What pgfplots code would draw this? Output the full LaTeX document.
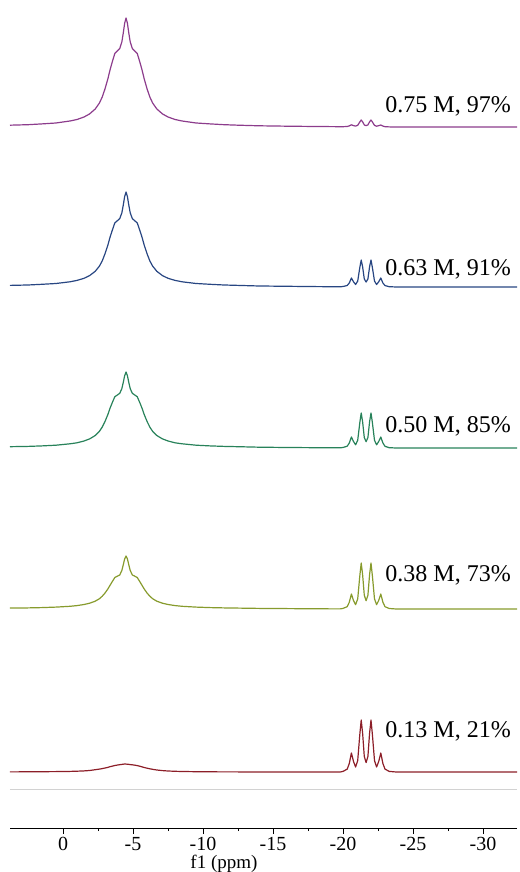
\documentclass[border=0pt]{standalone}
\usepackage{fontspec}
\setmainfont{Liberation Serif}
\usepackage{pgfplots}
\usepackage{pgfplotstable}
\pgfplotsset{compat=1.18}
\definecolor{cPurple}{RGB}{140,60,140}
\definecolor{cBlue}{RGB}{40,70,130}
\definecolor{cGreen}{RGB}{40,130,90}
\definecolor{cOlive}{RGB}{135,155,45}
\definecolor{cRed}{RGB}{140,30,40}
\pgfplotstableread{
x t75 t63 t50 t38 t13
3.79 1.8 1.6 1.3 0.9 0.1
2.5 2.3 2.0 1.6 1.1 0.2
1.5 3.1 2.7 2.1 1.4 0.3
0.5 4.0 3.5 2.8 1.9 0.4
-0.5 6.0 5.2 4.2 2.7 0.6
-1.0 7.5 6.6 5.2 3.4 0.8
-1.5 10.0 8.7 7.0 4.5 1.1
-1.9 13.1 11.4 9.1 5.8 1.5
-2.3 18.0 15.7 12.5 7.8 2.3
-2.6 24.0 20.9 16.7 10.3 2.9
-2.8 30.0 26.1 20.9 12.8 3.4
-3.0 38.2 33.3 26.6 16.0 4.0
-3.2 48.0 41.8 33.4 20.0 4.6
-3.35 56.7 49.4 39.5 23.5 5.3
-3.5 64.3 56.0 44.8 27.0 5.8
-3.7 73.6 64.1 51.3 31.5 6.5
-3.9 76.3 66.5 53.2 33.0 7.0
-4.05 78.5 68.4 54.7 34.0 7.3
-4.2 85.0 74.1 59.3 38.5 7.6
-4.3 93.7 81.7 65.4 44.0 7.8
-4.4 103.6 90.3 72.2 50.0 8.0
-4.5 109.0 95.0 76.0 53.0 7.9
-4.6 103.6 90.3 72.2 50.0 7.8
-4.7 93.7 81.7 65.4 44.0 7.6
-4.8 85.0 74.1 59.3 38.5 7.4
-4.95 78.5 68.4 54.7 34.0 7.2
-5.1 76.3 66.5 53.2 33.0 6.9
-5.3 73.6 64.1 51.3 31.5 6.4
-5.5 64.3 56.0 44.8 27.0 5.7
-5.65 56.7 49.4 39.5 23.5 5.1
-5.8 48.0 41.8 33.4 20.0 4.5
-6.0 38.2 33.3 26.6 16.0 3.8
-6.2 30.0 26.1 20.9 12.8 3.2
-6.4 24.0 20.9 16.7 10.3 2.7
-6.7 18.0 15.7 12.5 7.8 2.0
-7.1 13.1 11.4 9.1 5.8 1.4
-7.5 10.0 8.7 7.0 4.5 1.0
-8.0 7.5 6.6 5.2 3.4 0.7
-8.5 6.0 5.2 4.2 2.7 0.5
-9.5 4.0 3.5 2.8 1.9 0.3
-10.5 3.1 2.7 2.1 1.4 0.2
-11.5 2.3 2.0 1.6 1.1 0.1
-12.5 1.8 1.6 1.3 0.9 0.1
-14 1.2 1.0 0.8 0.6 0
-16 0.8 0.7 0.5 0.4 0
-18 0.5 0.4 0.3 0.2 0
-19.8 0.3 0.2 0.2 0.1 0
-20.0 0.3 0.5 0.5 0.6 0.6
-20.3 0.5 1.5 1.8 2.3 2.9
-20.45 1.1 4.0 5.0 6.8 8.5
-20.6 2.2 9.0 11.0 15.0 19.0
-20.75 1.4 5.2 6.5 8.5 10.5
-20.9 0.9 2.5 3.2 4.3 5.0
-21.05 1.7 5.9 7.7 10.1 11.4
-21.2 5.0 19.4 25.2 33.0 37.4
-21.3 7.0 27.0 35.0 46.0 52.0
-21.4 5.2 20.3 26.3 34.5 39.0
-21.52 2.1 8.1 10.5 13.8 15.6
-21.65 1.3 4.9 6.3 8.3 9.4
-21.78 2.1 8.1 10.5 13.8 15.6
-21.9 5.2 20.3 26.3 34.5 39.0
-22.0 7.0 27.0 35.0 46.0 52.0
-22.1 5.0 19.4 25.2 33.0 37.4
-22.25 1.6 5.9 7.7 10.1 11.4
-22.4 0.8 2.5 3.2 4.3 5.0
-22.55 1.3 5.2 6.5 8.5 10.5
-22.7 2.0 9.0 11.0 15.0 19.0
-22.85 0.9 4.0 5.0 6.8 8.5
-23.0 0.3 1.4 1.7 2.3 2.9
-23.3 0.1 0.3 0.3 0.5 0.6
-23.8 0 0 0 0 0
-27 0 0 0 0 0
-32.43 0 0 0 0 0
}\spectra
\begin{document}
\begin{tikzpicture}
\begin{axis}[
  scale only axis, width=507pt, height=828pt,
  x dir=reverse, xmin=-32.43, xmax=3.79, ymin=0, ymax=828,
  axis x line*=bottom, axis y line=none,
  xtick={-30,-25,-20,-15,-10,-5,0},
  xticklabels={-30,-25,-20,-15,-10,-5,0},
  minor x tick num=1,
  tick align=outside, major tick length=6pt, minor tick length=3pt,
  tick style={black, line width=0.8pt},
  x axis line style={black, line width=0.8pt, -},
  ticklabel style={font=\fontsize{20}{24}\selectfont},
  xlabel={f1 (ppm)},
  xlabel style={font=\fontsize{19}{22}\selectfont, at={(ticklabel cs:0.422)}, anchor=north, inner sep=0pt, yshift=-1pt},
  clip=false,
  every axis plot/.append style={line width=1.2pt, line join=round},
]
\addplot[gray!35, line width=0.8pt] coordinates {(3.79,39) (-32.43,39)};
\addplot[cRed] table[x=x, y expr=\thisrow{t13}+56] {\spectra};
\addplot[cOlive] table[x=x, y expr=\thisrow{t38}+219] {\spectra};
\addplot[cGreen] table[x=x, y expr=\thisrow{t50}+380] {\spectra};
\addplot[cBlue] table[x=x, y expr=\thisrow{t63}+541] {\spectra};
\addplot[cPurple] table[x=x, y expr=\thisrow{t75}+701] {\spectra};
\node[anchor=base east, font=\fontsize{24}{28}\selectfont, inner sep=0pt] at (axis cs:-32.0,715) {0.75 M, 97\%};
\node[anchor=base east, font=\fontsize{24}{28}\selectfont, inner sep=0pt] at (axis cs:-32.0,552) {0.63 M, 91\%};
\node[anchor=base east, font=\fontsize{24}{28}\selectfont, inner sep=0pt] at (axis cs:-32.0,395) {0.50 M, 85\%};
\node[anchor=base east, font=\fontsize{24}{28}\selectfont, inner sep=0pt] at (axis cs:-32.0,246) {0.38 M, 73\%};
\node[anchor=base east, font=\fontsize{24}{28}\selectfont, inner sep=0pt] at (axis cs:-32.0,90) {0.13 M, 21\%};
\end{axis}
\pgfresetboundingbox
\path (-10pt,-44pt) rectangle (509pt,828pt);
\end{tikzpicture}
\end{document}
